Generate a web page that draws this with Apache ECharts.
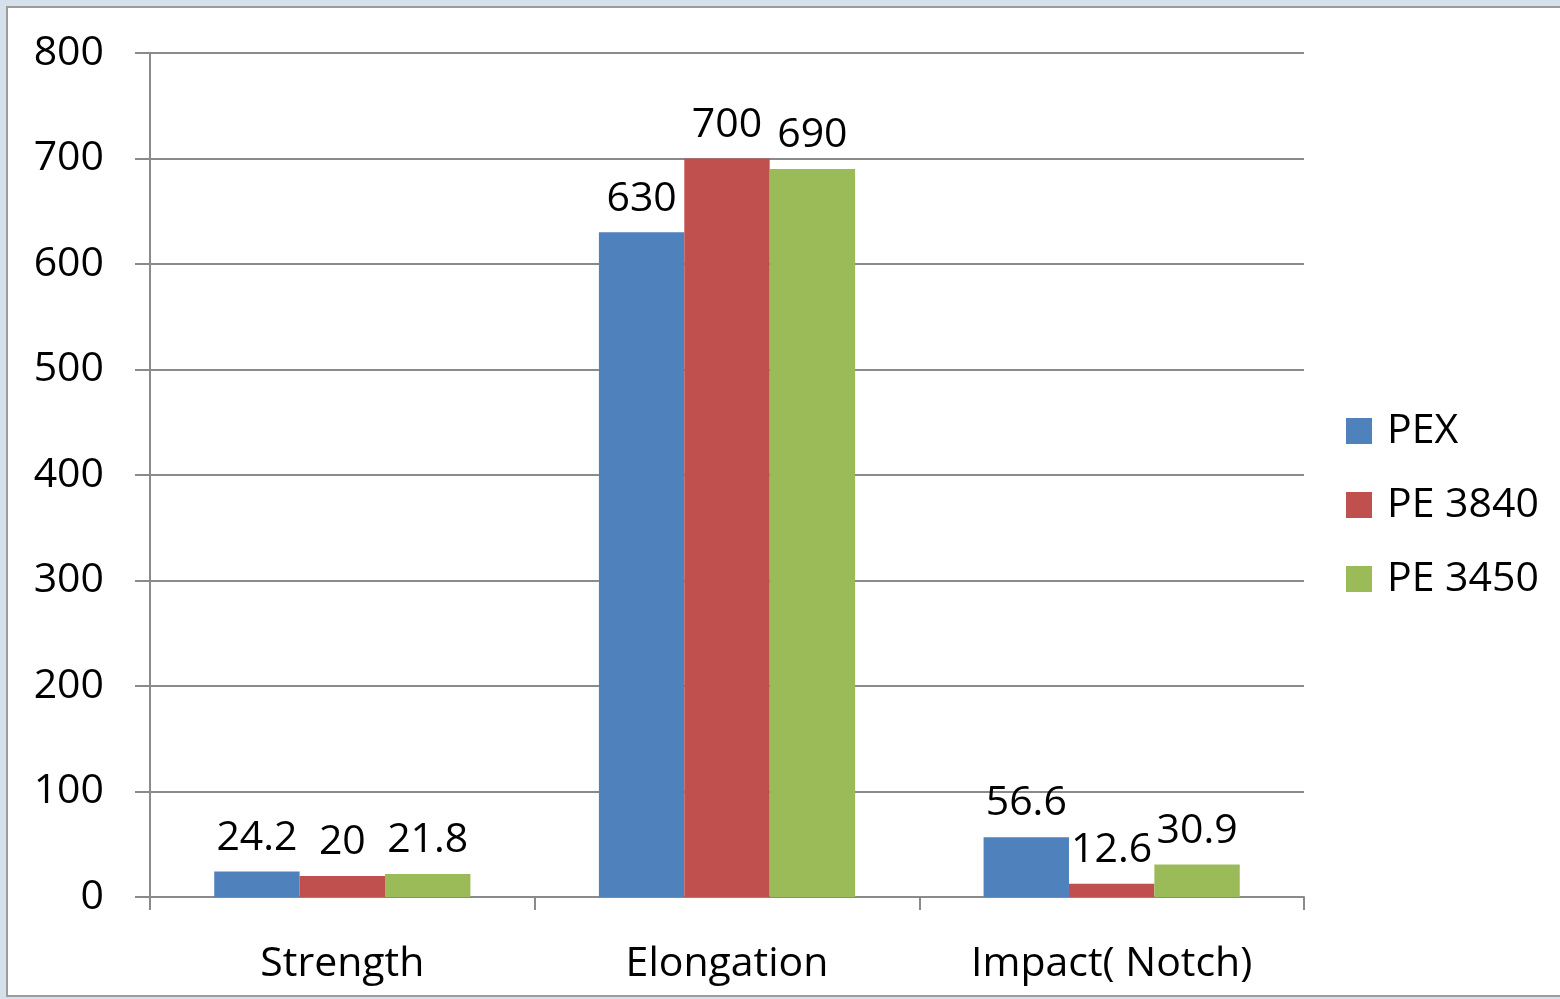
<!DOCTYPE html>
<html>
<head>
<meta charset="utf-8">
<script src="https://cdn.jsdelivr.net/npm/echarts@6/dist/echarts.min.js"></script>
<style>
html,body{margin:0;padding:0;background:#d5e0eb;}
#chart{width:1560px;height:999px;}
</style>
</head>
<body>
<div id="chart"></div>
<script>
const categories = ['Strength', 'Elongation', 'Impact( Notch)'];
const seriesNames = ['PEX', 'PE 3840', 'PE 3450'];
const pexValues = [24.2, 630, 56.6];
const pe3840Values = [20, 700, 12.6];
const pe3450Values = [21.8, 690, 30.9];
const yTicks = { min: 0, max: 800, interval: 100 };

const colors = ['#4f81bd', '#c0504d', '#9bbb59'];
const FONT = 'Open Sans';
const chart = echarts.init(document.getElementById('chart'), null, { renderer: 'canvas' });

function mkSeries(name, data, color) {
  return {
    name: name,
    type: 'bar',
    data: data,
    barGap: '0%',
    barCategoryGap: '33.4%',
    itemStyle: { color: color },
    label: {
      show: true,
      position: 'top',
      distance: 13,
      color: '#000',
      fontFamily: FONT,
      fontSize: 41
    }
  };
}

chart.setOption({
  backgroundColor: '#d5e0eb',
  animation: false,
  graphic: [{
    type: 'rect',
    z: -100,
    silent: true,
    shape: { x: 7, y: 7, width: 1570, height: 989 },
    style: { fill: '#ffffff', stroke: '#9c9c9c', lineWidth: 2 }
  }],
  textStyle: { fontFamily: FONT },
  legend: {
    orient: 'vertical',
    left: 1341,
    top: 399,
    itemWidth: 26,
    itemHeight: 26,
    itemGap: 20,
    icon: 'rect',
    data: seriesNames,
    textStyle: { fontFamily: FONT, fontSize: 41, color: '#000', lineHeight: 54, padding: [0, 0, 0, 10] }
  },
  grid: { left: 150, right: 256, top: 53, bottom: 102 },
  xAxis: {
    type: 'category',
    data: categories,
    axisLine: { lineStyle: { color: '#8a8a8a', width: 2 } },
    axisTick: { show: true, length: 13, lineStyle: { color: '#8a8a8a', width: 2 } },
    axisLabel: { color: '#000', fontFamily: FONT, fontSize: 41, margin: 47 }
  },
  yAxis: {
    type: 'value',
    min: yTicks.min,
    max: yTicks.max,
    interval: yTicks.interval,
    axisLine: { show: true, lineStyle: { color: '#8a8a8a', width: 2 } },
    axisTick: { show: true, length: 15, lineStyle: { color: '#8a8a8a', width: 2 } },
    axisLabel: { color: '#000', fontFamily: FONT, fontSize: 41, margin: 46, padding: [8, 0, 0, 0] },
    splitLine: { show: true, lineStyle: { color: '#8a8a8a', width: 2 } }
  },
  series: [
    mkSeries(seriesNames[0], pexValues, colors[0]),
    mkSeries(seriesNames[1], pe3840Values, colors[1]),
    mkSeries(seriesNames[2], pe3450Values, colors[2])
  ]
});
</script>
</body>
</html>
